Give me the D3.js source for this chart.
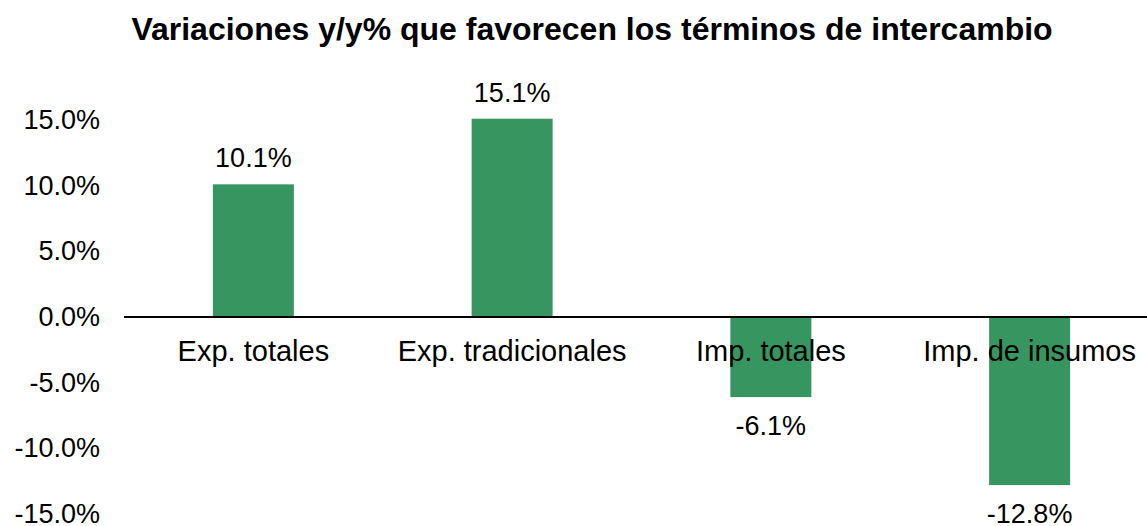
<!DOCTYPE html>
<html>
<head>
<meta charset="utf-8">
<script src="https://cdn.jsdelivr.net/npm/d3@7"></script>
<style>
  body { margin: 0; background: #fff; }
  svg { display: block; font-family: "Liberation Sans", Arial, sans-serif; }
</style>
</head>
<body>
<svg id="chart" width="1147" height="526"></svg>
<script>
// data
const categories = ["Exp. totales", "Exp. tradicionales", "Imp. totales", "Imp. de insumos"]
const values = [10.1, 15.1, -6.1, -12.8]
const yTicks = [-15, -10, -5, 0, 5, 10, 15]
const title = "Variaciones y/y% que favorecen los términos de intercambio"

const width = 1147, height = 526
const barColor = "#37965f"

const svg = d3.select("#chart")

// scales
const xScale = d3.scaleBand()
    .domain(categories)
    .range([124, 1159])
    .paddingInner(0.687)
    .paddingOuter(0.3435)

const yScale = d3.scaleLinear()
    .domain([-15, 15])
    .range([514, 120])

// title
svg.append("text")
    .attr("x", 592)
    .attr("y", 40)
    .attr("text-anchor", "middle")
    .attr("font-weight", "bold")
    .attr("font-size", "32px")
    .attr("fill", "#000")
    .text(title)

// y axis (labels only)
const yAxisGenerator = d3.axisLeft(yScale)
    .tickValues(yTicks)
    .tickSize(0)
    .tickPadding(24)
    .tickFormat(d => d.toFixed(1) + "%")

const yAxis = svg.append("g")
    .attr("transform", "translate(124,0)")
    .call(yAxisGenerator)
yAxis.select(".domain").remove()
yAxis.selectAll("text")
    .attr("font-size", "27px")
    .attr("font-family", "'Liberation Sans', Arial, sans-serif")
    .attr("fill", "#000")

// bars
svg.append("g")
    .selectAll("rect")
    .data(values)
    .enter()
    .append("rect")
        .attr("x", (d, i) => xScale(categories[i]))
        .attr("y", d => yScale(Math.max(0, d)))
        .attr("width", xScale.bandwidth())
        .attr("height", d => Math.abs(yScale(d) - yScale(0)))
        .attr("fill", barColor)

// zero line
svg.append("line")
    .attr("x1", 124)
    .attr("x2", width)
    .attr("y1", yScale(0))
    .attr("y2", yScale(0))
    .attr("stroke", "#000")
    .attr("stroke-width", 2)

// category labels
svg.append("g")
    .selectAll("text")
    .data(categories)
    .enter()
    .append("text")
        .attr("x", d => xScale(d) + xScale.bandwidth() / 2)
        .attr("y", 361)
        .attr("text-anchor", "middle")
        .attr("font-size", "29px")
        .attr("fill", "#000")
        .text(d => d)

// value labels
svg.append("g")
    .selectAll("text")
    .data(values)
    .enter()
    .append("text")
        .attr("x", (d, i) => xScale(categories[i]) + xScale.bandwidth() / 2)
        .attr("y", d => d >= 0 ? yScale(d) - 17 : yScale(d) + 38)
        .attr("text-anchor", "middle")
        .attr("font-size", "27px")
        .attr("fill", "#000")
        .text(d => d.toFixed(1) + "%")
</script>
</body>
</html>
